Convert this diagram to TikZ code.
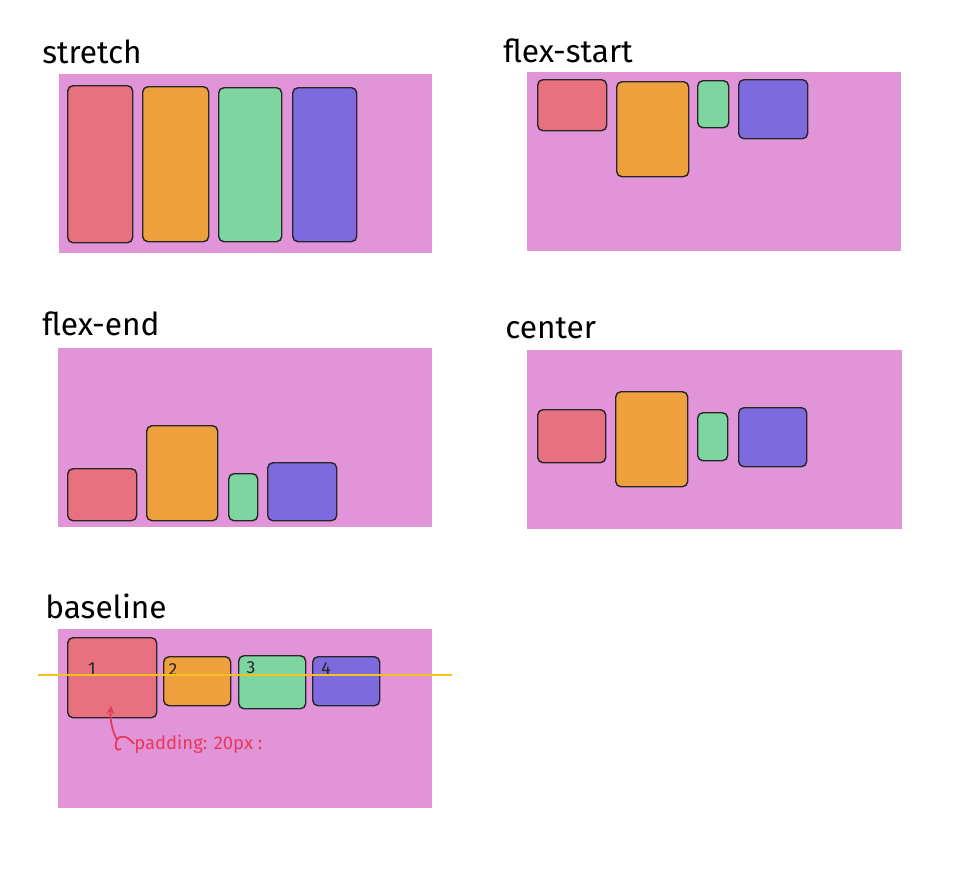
\documentclass[tikz,border=0pt]{standalone}
\usepackage{fontspec}
\setmainfont{Fira Sans}
\usetikzlibrary{positioning, arrows}
\definecolor{panelpink}{HTML}{E294D8}
\definecolor{itemred}{HTML}{E8717F}
\definecolor{itemorange}{HTML}{EDA03C}
\definecolor{itemgreen}{HTML}{7DD5A0}
\definecolor{itempurple}{HTML}{7E6ADF}
\definecolor{baseyellow}{HTML}{F4C21C}
\definecolor{notered}{HTML}{E8385A}
\tikzstyle{panel} = [rectangle, fill=panelpink, inner sep=0pt, anchor=north west]
\tikzstyle{item} = [rectangle, rounded corners=3pt, draw=black!85, line width=0.8pt, inner sep=0pt, anchor=north west]
\tikzstyle{title} = [anchor=base west, inner sep=0pt, font=\fontsize{18}{20}\selectfont]
\tikzstyle{num} = [inner sep=0pt, font=\fontsize{10}{11}\selectfont, text=black!85]
\tikzstyle{note} = [anchor=west, inner sep=0pt, font=\fontsize{10.5}{12}\selectfont, text=notered]
\tikzstyle{arrow} = [notered, line width=1pt, ->, >=stealth]

\begin{document}
\begin{tikzpicture}[x=0.02cm, y=-0.02cm]
\useasboundingbox (0,0) rectangle (960,887);
% containers and their titles
\foreach \p/\a/\b/\c/\d/\t/\tx/\ty in {st/59/74/432/253/stretch/42/63,
	fs/527/72/901/251/flex-start/503/62,
	fe/58/348/432/527/flex-end/42/335,
	ce/527/350/902/529/center/505/338,
	bl/58/629/432/808/baseline/45/618}{
	\node[panel, minimum width={(\c-\a)*0.02cm}, minimum height={(\d-\b)*0.02cm}] (\p) at (\a,\b) {};
	\node[title] (\p-title) at (\tx,\ty) {\t};
}
% flex items
\foreach \n/\a/\b/\c/\d/\col in {st-1/67/85/132/242/itemred, st-2/142/86/208/241/itemorange,
	st-3/218/87/281/241/itemgreen, st-4/292/87/356/241/itempurple,
	fs-1/537/79/606/130/itemred, fs-2/616/81/688/176/itemorange,
	fs-3/697/80/728/127/itemgreen, fs-4/738/79/807/138/itempurple,
	fe-1/67/468/136/520/itemred, fe-2/146/425/217/520/itemorange,
	fe-3/228/473/257/520/itemgreen, fe-4/267/462/336/520/itempurple,
	ce-1/537/409/605/462/itemred, ce-2/615/391/687/486/itemorange,
	ce-3/697/412/727/460/itemgreen, ce-4/738/407/806/466/itempurple,
	bl-1/67/637/156/717/itemred, bl-2/163/656/230/705/itemorange,
	bl-3/238/655/305/708/itemgreen, bl-4/312/656/379/705/itempurple}{
	\node[item, fill=\col, minimum width={(\c-\a)*0.02cm}, minimum height={(\d-\b)*0.02cm}] (\n) at (\a,\b) {};
}
% item labels
\node[num] (bl-n1) at (92,669) {1};
\node[num] (bl-n2) at (173,670) {2};
\node[num] (bl-n3) at (251,668) {3};
\node[num] (bl-n4) at (326,669) {4};
% baseline
\coordinate (bl-left) at (38,675);
\coordinate (bl-right) at (452,675);
\draw[baseyellow, line width=0.8pt] (bl-left) -- (bl-right);
% padding note
\node[note] (pad) at (134,744) {padding: 20px :};
\coordinate (pad-tip) at (111,706);
\draw[arrow] (pad.west) .. controls (128,736) and (120,734) .. (117,740) .. controls (114,746) and (116,752) .. (121,749)
	(117,740) .. controls (112,730) and (110,720) .. (pad-tip);
\end{tikzpicture}
\end{document}
